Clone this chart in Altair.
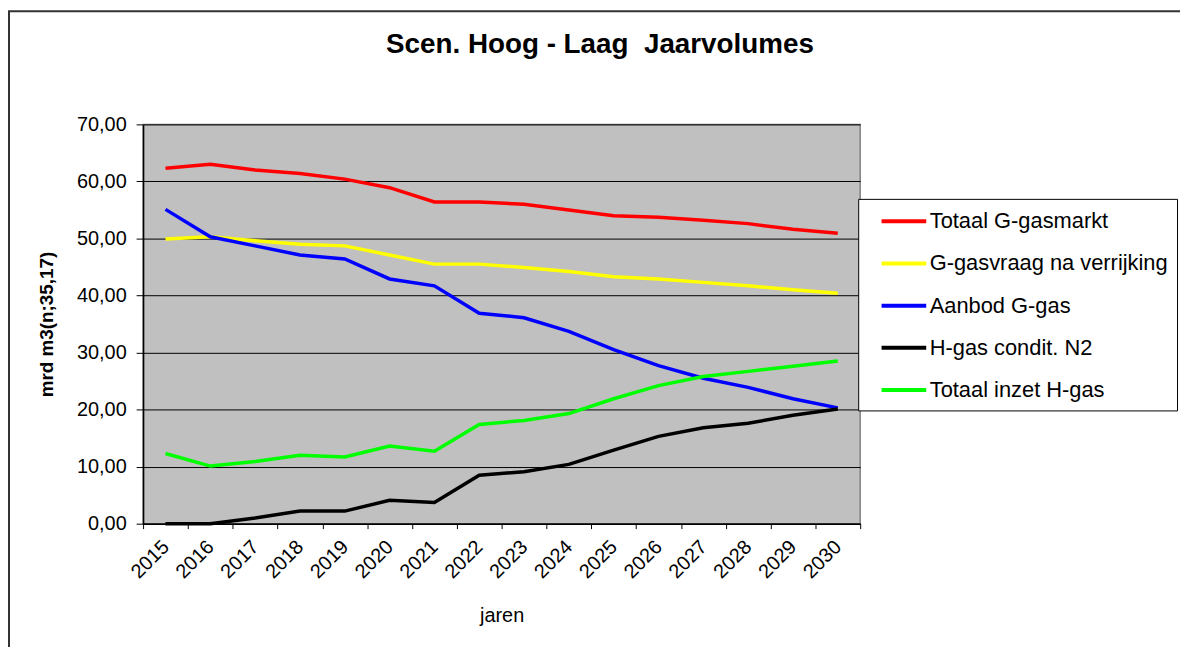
import altair as alt
import pandas as pd

years = list(range(2015, 2031))
series_names = [
    "Totaal G-gasmarkt",
    "G-gasvraag na verrijking",
    "Aanbod G-gas",
    "H-gas condit. N2",
    "Totaal inzet H-gas",
]
colors = ["#FF0000", "#FFFF00", "#0000FF", "#000000", "#00FF00"]

totaal_g = [62.3, 63.0, 62.0, 61.4, 60.4, 58.9, 56.4, 56.4, 56.0, 55.0, 54.0, 53.7, 53.2, 52.6, 51.6, 50.9]
g_vraag = [49.9, 50.3, 49.6, 49.0, 48.7, 47.1, 45.5, 45.5, 44.9, 44.2, 43.3, 42.9, 42.3, 41.7, 41.0, 40.4]
aanbod_g = [55.1, 50.3, 48.7, 47.1, 46.4, 42.9, 41.7, 36.9, 36.1, 33.7, 30.5, 27.7, 25.5, 23.9, 21.9, 20.3]
h_cond = [0.0, 0.0, 1.0, 2.2, 2.2, 4.1, 3.7, 8.5, 9.1, 10.4, 12.9, 15.3, 16.8, 17.6, 19.0, 20.1]
h_inzet = [12.3, 10.1, 10.9, 12.0, 11.7, 13.6, 12.7, 17.4, 18.1, 19.3, 21.9, 24.2, 25.8, 26.7, 27.6, 28.5]

all_series = [totaal_g, g_vraag, aanbod_g, h_cond, h_inzet]
rows = []
for i, (name, vals) in enumerate(zip(series_names, all_series)):
    for y, v in zip(years, vals):
        rows.append({"jaar": y, "waarde": v, "reeks": name, "order": i})
df = pd.DataFrame(rows)

axis_values = []
for y in years:
    axis_values.append(y - 0.5)
    axis_values.append(y)
axis_values.append(years[-1] + 0.5)

FONT = "Liberation Sans"

x_enc = alt.X(
    "jaar:Q",
    scale=alt.Scale(domain=[years[0] - 0.5, years[-1] + 0.5], nice=False, zero=False),
    axis=alt.Axis(
        title="jaren",
        values=axis_values,
        labelExpr="datum.value % 1 === 0 ? format(datum.value, 'd') : ''",
        labelAngle=-45,
        labelAlign="right",
        labelBaseline="middle",
        labelPadding=15,
        labelOverlap=False,
        labelFontSize=20,
        labelFont=FONT,
        labelColor="#000000",
        tickSize=5,
        tickColor="#000000",
        tickOpacity={"condition": {"test": "datum.value % 1 !== 0", "value": 1}, "value": 0},
        domainColor="#000000",
        domainWidth=1.5,
        grid=False,
        titleFontSize=20,
        titleFont=FONT,
        titleFontWeight="normal",
        titleColor="#000000",
        titlePadding=24,
    ),
)

y_enc = alt.Y(
    "waarde:Q",
    scale=alt.Scale(domain=[0, 70], nice=False),
    axis=alt.Axis(
        title="mrd m3(n;35,17)",
        values=[0, 10, 20, 30, 40, 50, 60, 70],
        labelExpr="replace(format(datum.value, '.2f'), '.', ',')",
        labelFontSize=20,
        labelFont=FONT,
        labelColor="#000000",
        labelPadding=10,
        tickSize=7,
        tickColor="#000000",
        domainColor="#000000",
        domainWidth=1.5,
        grid=True,
        gridColor="#000000",
        gridWidth=1,
        titleFontSize=19,
        titleFont=FONT,
        titleFontWeight="bold",
        titleColor="#000000",
        titlePadding=20,
    ),
)

lines = alt.Chart(df).mark_line(strokeWidth=3.5).encode(
    x=x_enc,
    y=y_enc,
    color=alt.Color(
        "reeks:N",
        scale=alt.Scale(domain=series_names, range=colors),
        sort=series_names,
        legend=alt.Legend(
            title=None,
            orient="none",
            legendX=720,
            legendY=75,
            fillColor="#FFFFFF",
            strokeColor="#000000",
            padding=9,
            symbolType="M-2,0H2",
            symbolSize=506,
            symbolStrokeWidth=4,
            symbolOffset=23.5,
            labelFontSize=22,
            labelFont=FONT,
            labelColor="#000000",
            labelOffset=12.5,
            labelLimit=400,
            rowPadding=17.5,
            offset=0,
        ),
    ),
    order=alt.Order("order:Q"),
    detail="reeks:N",
)

frame = alt.Chart(pd.DataFrame({"k": [0]})).mark_rect(
    fill=None, stroke="#333333", strokeWidth=2
).encode(
    x=alt.value(-135),
    x2=alt.value(1060),
    y=alt.value(-114),
    y2=alt.value(560),
)

chart = alt.layer(lines, frame).properties(
    width=722,
    height=402,
    padding={"left": 136, "top": 115, "right": 322, "bottom": 122},
    autosize=alt.AutoSizeParams(type="none"),
    title=alt.TitleParams(
        "Scen. Hoog - Laag\u00a0 Jaarvolumes",
        fontSize=28,
        font=FONT,
        fontWeight="bold",
        color="#000000",
        anchor="middle",
        frame="group",
        dx=99,
        offset=-49,
    ),
).configure_view(
    fill="#C0C0C0", stroke="#808080", strokeWidth=1.5
)

chart.save("out.html", embed_options={"renderer": "svg", "actions": False})
